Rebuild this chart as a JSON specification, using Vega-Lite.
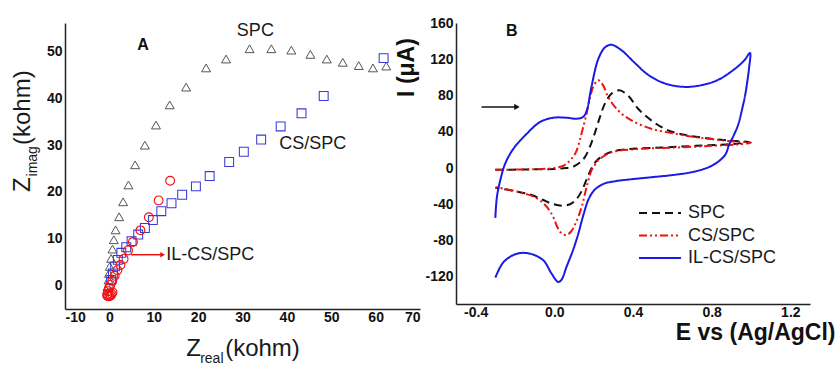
{
  "$schema": "https://vega.github.io/schema/vega-lite/v6.json",
  "padding": {"left": 10, "top": 16, "right": 0, "bottom": 0},
  "background": "white",
  "config": {
    "font": "Liberation Sans",
    "view": {"stroke": null},
    "concat": {"spacing": 36},
    "locale": {"number": {"decimal": ".", "thousands": ",", "grouping": [3], "currency": ["$", ""], "minus": "-"}},
    "axis": {
      "grid": false, "ticks": false, "domainColor": "#222222", "domainWidth": 1.5,
      "labelFontSize": 14, "labelFontWeight": "bold", "labelColor": "#111111", "labelPadding": 3,
      "labelFont": "Liberation Sans"
    },
    "axisBottom": {"labelPadding": 1}
  },
  "bounds": "flush",
  "resolve": {
    "scale": {"color": "independent", "shape": "independent", "size": "independent", "strokeWidth": "independent", "strokeDash": "independent"},
    "legend": {"color": "independent", "strokeDash": "independent"}
  },
  "hconcat": [
    {
      "width": 355,
      "height": 286,
      "encoding": {
        "x": {"field": "zr", "type": "quantitative", "scale": {"domain": [-10, 70], "nice": false, "zero": false},
              "axis": {"title": null, "values": [-10, 0, 10, 20, 30, 40, 50, 60, 70]}},
        "y": {"field": "zi", "type": "quantitative", "scale": {"domain": [-5, 56.1], "nice": false, "zero": false},
              "axis": {"title": null, "values": [0, 10, 20, 30, 40, 50]}}
      },
      "layer": [
        {
          "data": {"values": [
            {"series": "SPC", "zr": -0.4, "zi": -0.2},
            {"series": "SPC", "zr": -0.2, "zi": 1.2},
            {"series": "SPC", "zr": -0.1, "zi": 2.6},
            {"series": "SPC", "zr": 0.1, "zi": 4.1},
            {"series": "SPC", "zr": 0.4, "zi": 5.8},
            {"series": "SPC", "zr": 0.7, "zi": 7.8},
            {"series": "SPC", "zr": 1.0, "zi": 9.8},
            {"series": "SPC", "zr": 1.4, "zi": 11.9},
            {"series": "SPC", "zr": 2.2, "zi": 14.7},
            {"series": "SPC", "zr": 3.1, "zi": 17.9},
            {"series": "SPC", "zr": 4.3, "zi": 21.5},
            {"series": "SPC", "zr": 5.8, "zi": 25.8},
            {"series": "SPC", "zr": 8.0, "zi": 30.0},
            {"series": "SPC", "zr": 10.5, "zi": 34.3},
            {"series": "SPC", "zr": 13.6, "zi": 38.6},
            {"series": "SPC", "zr": 17.3, "zi": 42.4},
            {"series": "SPC", "zr": 21.8, "zi": 46.5},
            {"series": "SPC", "zr": 26.3, "zi": 48.4},
            {"series": "SPC", "zr": 31.6, "zi": 50.6},
            {"series": "SPC", "zr": 36.5, "zi": 50.6},
            {"series": "SPC", "zr": 41.0, "zi": 50.3},
            {"series": "SPC", "zr": 45.3, "zi": 49.4},
            {"series": "SPC", "zr": 49.0, "zi": 48.4},
            {"series": "SPC", "zr": 52.6, "zi": 47.7},
            {"series": "SPC", "zr": 56.2, "zi": 47.0},
            {"series": "SPC", "zr": 59.4, "zi": 46.5},
            {"series": "SPC", "zr": 62.4, "zi": 46.9},
            {"series": "CS/SPC", "zr": 0.4, "zi": 1.2},
            {"series": "CS/SPC", "zr": 0.8, "zi": 2.6},
            {"series": "CS/SPC", "zr": 1.3, "zi": 4.1},
            {"series": "CS/SPC", "zr": 1.9, "zi": 5.5},
            {"series": "CS/SPC", "zr": 2.7, "zi": 7.0},
            {"series": "CS/SPC", "zr": 3.8, "zi": 8.2},
            {"series": "CS/SPC", "zr": 5.0, "zi": 9.5},
            {"series": "CS/SPC", "zr": 6.5, "zi": 10.9},
            {"series": "CS/SPC", "zr": 8.0, "zi": 12.3},
            {"series": "CS/SPC", "zr": 9.8, "zi": 14.0},
            {"series": "CS/SPC", "zr": 11.7, "zi": 15.9},
            {"series": "CS/SPC", "zr": 14.0, "zi": 17.6},
            {"series": "CS/SPC", "zr": 16.4, "zi": 19.4},
            {"series": "CS/SPC", "zr": 19.5, "zi": 21.2},
            {"series": "CS/SPC", "zr": 22.6, "zi": 23.4},
            {"series": "CS/SPC", "zr": 27.0, "zi": 26.4},
            {"series": "CS/SPC", "zr": 30.3, "zi": 28.6},
            {"series": "CS/SPC", "zr": 34.2, "zi": 31.2},
            {"series": "CS/SPC", "zr": 38.6, "zi": 34.0},
            {"series": "CS/SPC", "zr": 43.3, "zi": 36.8},
            {"series": "CS/SPC", "zr": 48.3, "zi": 40.5},
            {"series": "CS/SPC", "zr": 61.8, "zi": 48.6},
            {"series": "IL-CS/SPC", "zr": -0.5, "zi": -2.1},
            {"series": "IL-CS/SPC", "zr": -0.3, "zi": -2.3},
            {"series": "IL-CS/SPC", "zr": 0.0, "zi": -2.3},
            {"series": "IL-CS/SPC", "zr": 0.3, "zi": -2.1},
            {"series": "IL-CS/SPC", "zr": 0.5, "zi": -1.8},
            {"series": "IL-CS/SPC", "zr": 0.7, "zi": -1.4},
            {"series": "IL-CS/SPC", "zr": -0.45, "zi": -1.8},
            {"series": "IL-CS/SPC", "zr": -0.3, "zi": -1.2},
            {"series": "IL-CS/SPC", "zr": -0.08, "zi": -0.5},
            {"series": "IL-CS/SPC", "zr": 0.2, "zi": 0.15},
            {"series": "IL-CS/SPC", "zr": 0.66, "zi": 1.0},
            {"series": "IL-CS/SPC", "zr": 1.2, "zi": 2.1},
            {"series": "IL-CS/SPC", "zr": 1.8, "zi": 3.3},
            {"series": "IL-CS/SPC", "zr": 2.5, "zi": 4.4},
            {"series": "IL-CS/SPC", "zr": 3.2, "zi": 5.7},
            {"series": "IL-CS/SPC", "zr": 4.2, "zi": 7.5},
            {"series": "IL-CS/SPC", "zr": 5.3, "zi": 9.3},
            {"series": "IL-CS/SPC", "zr": 7.0, "zi": 11.8},
            {"series": "IL-CS/SPC", "zr": 8.9, "zi": 14.6},
            {"series": "IL-CS/SPC", "zr": 11.1, "zi": 18.2},
            {"series": "IL-CS/SPC", "zr": 13.7, "zi": 22.4}
          ]},
          "mark": {"type": "point", "filled": false, "opacity": 1},
          "encoding": {
            "shape": {"field": "series", "type": "nominal", "legend": null,
                      "scale": {"domain": ["SPC", "CS/SPC", "IL-CS/SPC"], "range": ["triangle-up", "square", "circle"]}},
            "color": {"field": "series", "type": "nominal", "legend": null,
                      "scale": {"domain": ["SPC", "CS/SPC", "IL-CS/SPC"], "range": ["#555555", "#3a3ad6", "#ee1111"]}},
            "size": {"field": "series", "type": "nominal", "legend": null,
                     "scale": {"domain": ["SPC", "CS/SPC", "IL-CS/SPC"], "range": [80, 78, 85]}},
            "strokeWidth": {"field": "series", "type": "nominal", "legend": null,
                     "scale": {"domain": ["SPC", "CS/SPC", "IL-CS/SPC"], "range": [1, 1.1, 2]}}
          }
        },
        {
          "data": {"values": [{"zr": 4.9, "zi": 6.6, "zr2": 12.0}]},
          "mark": {"type": "rule", "color": "#ee1111", "strokeWidth": 1.5},
          "encoding": {"x2": {"field": "zr2"}}
        },
        {
          "data": {"values": [{"zr": 12.0, "zi": 6.6}]},
          "mark": {"type": "point", "shape": "triangle-right", "filled": true, "color": "#ee1111", "size": 30, "opacity": 1}
        },
        {
          "data": {"values": [
            {"label": "SPC", "zr": 32.9, "zi": 54.3, "align": "center"},
            {"label": "CS/SPC", "zr": 38.3, "zi": 30.3, "align": "left"},
            {"label": "IL-CS/SPC", "zr": 12.8, "zi": 6.6, "align": "left"}
          ]},
          "mark": {"type": "text", "fontSize": 18, "color": "#1a1a1a", "baseline": "middle", "align": {"expr": "datum.align"}},
          "encoding": {"text": {"field": "label"}}
        },
        {
          "data": {"values": [{"label": "A", "zr": 7.6, "zi": 51.5}]},
          "mark": {"type": "text", "fontSize": 16, "fontWeight": "bold", "color": "#111111", "baseline": "middle"},
          "encoding": {"text": {"field": "label"}}
        },
        {
          "data": {"values": [{"t": "Z", "zr": 17.3, "zi": -5}]},
          "mark": {"type": "text", "fontSize": 24, "align": "left", "baseline": "alphabetic", "dy": 47, "color": "#1a1a1a"},
          "encoding": {"text": {"field": "t"}}
        },
        {
          "data": {"values": [{"t": "real", "zr": 17.3, "zi": -5}]},
          "mark": {"type": "text", "fontSize": 14, "align": "left", "baseline": "alphabetic", "dx": 14, "dy": 54, "color": "#1a1a1a"},
          "encoding": {"text": {"field": "t"}}
        },
        {
          "data": {"values": [{"t": "(kohm)", "zr": 17.3, "zi": -5}]},
          "mark": {"type": "text", "fontSize": 24, "align": "left", "baseline": "alphabetic", "dx": 39, "dy": 47, "color": "#1a1a1a"},
          "encoding": {"text": {"field": "t"}}
        },
        {
          "data": {"values": [{"t": "Z", "zr": -10, "zi": 20}]},
          "mark": {"type": "text", "fontSize": 24, "angle": 270, "align": "left", "baseline": "alphabetic", "dy": -35, "color": "#1a1a1a"},
          "encoding": {"text": {"field": "t"}}
        },
        {
          "data": {"values": [{"t": "imag", "zr": -10, "zi": 20}]},
          "mark": {"type": "text", "fontSize": 14, "angle": 270, "align": "left", "baseline": "alphabetic", "dx": 15.5, "dy": -28, "color": "#1a1a1a"},
          "encoding": {"text": {"field": "t"}}
        },
        {
          "data": {"values": [{"t": "(kohm)", "zr": -10, "zi": 20}]},
          "mark": {"type": "text", "fontSize": 24, "angle": 270, "align": "left", "baseline": "alphabetic", "dx": 47, "dy": -35, "color": "#1a1a1a"},
          "encoding": {"text": {"field": "t"}}
        }
      ]
    },
    {
      "width": 354,
      "height": 281,
      "encoding": {
        "x": {"field": "E", "type": "quantitative", "scale": {"domain": [-0.5, 1.3], "nice": false, "zero": false},
              "axis": {"values": [-0.4, 0, 0.4, 0.8, 1.2], "format": ".1f", "title": "E vs (Ag/AgCl)",
                       "titleFontSize": 23, "titleFontWeight": "bold", "titleColor": "#111111",
                       "titleAnchor": "start", "titleAlign": "right", "titleBaseline": "alphabetic", "titleX": 379, "titleY": 35}},
        "y": {"field": "I", "type": "quantitative", "scale": {"domain": [-150, 160], "nice": false, "zero": false},
              "axis": {"values": [-120, -80, -40, 0, 40, 80, 120, 160], "format": "d", "title": "I (μA)",
                       "titleFontSize": 23, "titleFontWeight": "bold", "titleColor": "#111111",
                       "titleAngle": 270, "titleAlign": "center", "titleBaseline": "alphabetic", "titleX": -43, "titleY": 44}}
      },
      "layer": [
        {
          "data": {"values": [
            {"series": "SPC", "k": 1, "E": -0.30, "I": -2.0},
            {"series": "SPC", "k": 2, "E": -0.15, "I": -1.6},
            {"series": "SPC", "k": 3, "E": 0.0, "I": -1.0},
            {"series": "SPC", "k": 4, "E": 0.06, "I": 0.0},
            {"series": "SPC", "k": 5, "E": 0.10, "I": 2.0},
            {"series": "SPC", "k": 6, "E": 0.13, "I": 6.0},
            {"series": "SPC", "k": 7, "E": 0.155, "I": 12.0},
            {"series": "SPC", "k": 8, "E": 0.18, "I": 23.0},
            {"series": "SPC", "k": 9, "E": 0.205, "I": 38.0},
            {"series": "SPC", "k": 10, "E": 0.23, "I": 55.0},
            {"series": "SPC", "k": 11, "E": 0.257, "I": 71.0},
            {"series": "SPC", "k": 12, "E": 0.29, "I": 82.0},
            {"series": "SPC", "k": 13, "E": 0.33, "I": 85.7},
            {"series": "SPC", "k": 14, "E": 0.375, "I": 80.0},
            {"series": "SPC", "k": 15, "E": 0.426, "I": 65.4},
            {"series": "SPC", "k": 16, "E": 0.493, "I": 52.6},
            {"series": "SPC", "k": 17, "E": 0.578, "I": 41.5},
            {"series": "SPC", "k": 18, "E": 0.679, "I": 36.0},
            {"series": "SPC", "k": 19, "E": 0.797, "I": 32.4},
            {"series": "SPC", "k": 20, "E": 0.90, "I": 30.0},
            {"series": "SPC", "k": 21, "E": 0.99, "I": 28.5},
            {"series": "SPC", "k": 22, "E": 0.95, "I": 27.2},
            {"series": "SPC", "k": 23, "E": 0.85, "I": 25.8},
            {"series": "SPC", "k": 24, "E": 0.72, "I": 24.5},
            {"series": "SPC", "k": 25, "E": 0.60, "I": 23.2},
            {"series": "SPC", "k": 26, "E": 0.48, "I": 22.0},
            {"series": "SPC", "k": 27, "E": 0.38, "I": 21.0},
            {"series": "SPC", "k": 28, "E": 0.30, "I": 18.5},
            {"series": "SPC", "k": 29, "E": 0.25, "I": 14.0},
            {"series": "SPC", "k": 30, "E": 0.215, "I": 8.0},
            {"series": "SPC", "k": 31, "E": 0.19, "I": 0.0},
            {"series": "SPC", "k": 32, "E": 0.165, "I": -12.0},
            {"series": "SPC", "k": 33, "E": 0.14, "I": -25.0},
            {"series": "SPC", "k": 34, "E": 0.11, "I": -35.0},
            {"series": "SPC", "k": 35, "E": 0.08, "I": -40.0},
            {"series": "SPC", "k": 36, "E": 0.04, "I": -41.5},
            {"series": "SPC", "k": 37, "E": -0.01, "I": -39.5},
            {"series": "SPC", "k": 38, "E": -0.06, "I": -35.0},
            {"series": "SPC", "k": 39, "E": -0.12, "I": -29.5},
            {"series": "SPC", "k": 40, "E": -0.20, "I": -25.5},
            {"series": "SPC", "k": 41, "E": -0.30, "I": -21.7},
            {"series": "CS/SPC", "k": 1, "E": -0.30, "I": -2.0},
            {"series": "CS/SPC", "k": 2, "E": -0.15, "I": -1.5},
            {"series": "CS/SPC", "k": 3, "E": 0.0, "I": 0.0},
            {"series": "CS/SPC", "k": 4, "E": 0.05, "I": 3.0},
            {"series": "CS/SPC", "k": 5, "E": 0.08, "I": 8.5},
            {"series": "CS/SPC", "k": 6, "E": 0.11, "I": 17.6},
            {"series": "CS/SPC", "k": 7, "E": 0.138, "I": 37.9},
            {"series": "CS/SPC", "k": 8, "E": 0.164, "I": 60.0},
            {"series": "CS/SPC", "k": 9, "E": 0.18, "I": 76.0},
            {"series": "CS/SPC", "k": 10, "E": 0.197, "I": 89.3},
            {"series": "CS/SPC", "k": 11, "E": 0.223, "I": 96.8},
            {"series": "CS/SPC", "k": 12, "E": 0.248, "I": 91.2},
            {"series": "CS/SPC", "k": 13, "E": 0.274, "I": 78.3},
            {"series": "CS/SPC", "k": 14, "E": 0.324, "I": 63.6},
            {"series": "CS/SPC", "k": 15, "E": 0.392, "I": 52.6},
            {"series": "CS/SPC", "k": 16, "E": 0.493, "I": 43.4},
            {"series": "CS/SPC", "k": 17, "E": 0.612, "I": 37.9},
            {"series": "CS/SPC", "k": 18, "E": 0.713, "I": 34.2},
            {"series": "CS/SPC", "k": 19, "E": 0.797, "I": 32.0},
            {"series": "CS/SPC", "k": 20, "E": 0.90, "I": 29.5},
            {"series": "CS/SPC", "k": 21, "E": 1.0, "I": 28.0},
            {"series": "CS/SPC", "k": 22, "E": 0.93, "I": 26.0},
            {"series": "CS/SPC", "k": 23, "E": 0.80, "I": 24.5},
            {"series": "CS/SPC", "k": 24, "E": 0.66, "I": 23.0},
            {"series": "CS/SPC", "k": 25, "E": 0.52, "I": 22.0},
            {"series": "CS/SPC", "k": 26, "E": 0.40, "I": 20.5},
            {"series": "CS/SPC", "k": 27, "E": 0.30, "I": 18.0},
            {"series": "CS/SPC", "k": 28, "E": 0.25, "I": 13.0},
            {"series": "CS/SPC", "k": 29, "E": 0.22, "I": 8.0},
            {"series": "CS/SPC", "k": 30, "E": 0.205, "I": 3.0},
            {"series": "CS/SPC", "k": 31, "E": 0.189, "I": -2.6},
            {"series": "CS/SPC", "k": 32, "E": 0.164, "I": -21.0},
            {"series": "CS/SPC", "k": 33, "E": 0.139, "I": -43.0},
            {"series": "CS/SPC", "k": 34, "E": 0.11, "I": -60.0},
            {"series": "CS/SPC", "k": 35, "E": 0.085, "I": -70.0},
            {"series": "CS/SPC", "k": 36, "E": 0.062, "I": -74.0},
            {"series": "CS/SPC", "k": 37, "E": 0.037, "I": -72.0},
            {"series": "CS/SPC", "k": 38, "E": 0.015, "I": -65.0},
            {"series": "CS/SPC", "k": 39, "E": -0.01, "I": -52.0},
            {"series": "CS/SPC", "k": 40, "E": -0.05, "I": -40.0},
            {"series": "CS/SPC", "k": 41, "E": -0.10, "I": -32.0},
            {"series": "CS/SPC", "k": 42, "E": -0.15, "I": -28.3},
            {"series": "CS/SPC", "k": 43, "E": -0.216, "I": -24.6},
            {"series": "CS/SPC", "k": 44, "E": -0.30, "I": -21.0},
            {"series": "IL-CS/SPC", "k": 1, "E": -0.300, "I": -55.0},
            {"series": "IL-CS/SPC", "k": 2, "E": -0.292, "I": -32.0},
            {"series": "IL-CS/SPC", "k": 3, "E": -0.275, "I": -13.6},
            {"series": "IL-CS/SPC", "k": 4, "E": -0.25, "I": 4.8},
            {"series": "IL-CS/SPC", "k": 5, "E": -0.208, "I": 21.3},
            {"series": "IL-CS/SPC", "k": 6, "E": -0.14, "I": 37.9},
            {"series": "IL-CS/SPC", "k": 7, "E": -0.073, "I": 50.7},
            {"series": "IL-CS/SPC", "k": 8, "E": -0.005, "I": 55.5},
            {"series": "IL-CS/SPC", "k": 9, "E": 0.062, "I": 55.5},
            {"series": "IL-CS/SPC", "k": 10, "E": 0.113, "I": 54.4},
            {"series": "IL-CS/SPC", "k": 11, "E": 0.147, "I": 56.5},
            {"series": "IL-CS/SPC", "k": 12, "E": 0.165, "I": 63.6},
            {"series": "IL-CS/SPC", "k": 13, "E": 0.189, "I": 90.0},
            {"series": "IL-CS/SPC", "k": 14, "E": 0.223, "I": 120.0},
            {"series": "IL-CS/SPC", "k": 15, "E": 0.257, "I": 133.0},
            {"series": "IL-CS/SPC", "k": 16, "E": 0.29, "I": 136.0},
            {"series": "IL-CS/SPC", "k": 17, "E": 0.341, "I": 130.0},
            {"series": "IL-CS/SPC", "k": 18, "E": 0.409, "I": 116.0},
            {"series": "IL-CS/SPC", "k": 19, "E": 0.476, "I": 103.0},
            {"series": "IL-CS/SPC", "k": 20, "E": 0.56, "I": 93.5},
            {"series": "IL-CS/SPC", "k": 21, "E": 0.662, "I": 89.5},
            {"series": "IL-CS/SPC", "k": 22, "E": 0.75, "I": 91.5},
            {"series": "IL-CS/SPC", "k": 23, "E": 0.83, "I": 97.0},
            {"series": "IL-CS/SPC", "k": 24, "E": 0.90, "I": 106.5},
            {"series": "IL-CS/SPC", "k": 25, "E": 0.965, "I": 118.5},
            {"series": "IL-CS/SPC", "k": 26, "E": 0.995, "I": 127.0},
            {"series": "IL-CS/SPC", "k": 27, "E": 0.990, "I": 110.0},
            {"series": "IL-CS/SPC", "k": 28, "E": 0.982, "I": 96.7},
            {"series": "IL-CS/SPC", "k": 29, "E": 0.970, "I": 80.0},
            {"series": "IL-CS/SPC", "k": 30, "E": 0.957, "I": 67.0},
            {"series": "IL-CS/SPC", "k": 31, "E": 0.935, "I": 48.0},
            {"series": "IL-CS/SPC", "k": 32, "E": 0.912, "I": 36.0},
            {"series": "IL-CS/SPC", "k": 33, "E": 0.889, "I": 26.0},
            {"series": "IL-CS/SPC", "k": 34, "E": 0.87, "I": 15.0},
            {"series": "IL-CS/SPC", "k": 35, "E": 0.83, "I": 6.5},
            {"series": "IL-CS/SPC", "k": 36, "E": 0.78, "I": 0.5},
            {"series": "IL-CS/SPC", "k": 37, "E": 0.70, "I": -4.5},
            {"series": "IL-CS/SPC", "k": 38, "E": 0.60, "I": -7.8},
            {"series": "IL-CS/SPC", "k": 39, "E": 0.50, "I": -10.0},
            {"series": "IL-CS/SPC", "k": 40, "E": 0.40, "I": -12.2},
            {"series": "IL-CS/SPC", "k": 41, "E": 0.31, "I": -14.5},
            {"series": "IL-CS/SPC", "k": 42, "E": 0.25, "I": -17.5},
            {"series": "IL-CS/SPC", "k": 43, "E": 0.205, "I": -24.0},
            {"series": "IL-CS/SPC", "k": 44, "E": 0.175, "I": -34.0},
            {"series": "IL-CS/SPC", "k": 45, "E": 0.150, "I": -50.0},
            {"series": "IL-CS/SPC", "k": 46, "E": 0.122, "I": -72.4},
            {"series": "IL-CS/SPC", "k": 47, "E": 0.096, "I": -90.0},
            {"series": "IL-CS/SPC", "k": 48, "E": 0.062, "I": -109.0},
            {"series": "IL-CS/SPC", "k": 49, "E": 0.037, "I": -123.0},
            {"series": "IL-CS/SPC", "k": 50, "E": 0.02, "I": -125.7},
            {"series": "IL-CS/SPC", "k": 51, "E": -0.014, "I": -116.5},
            {"series": "IL-CS/SPC", "k": 52, "E": -0.056, "I": -101.8},
            {"series": "IL-CS/SPC", "k": 53, "E": -0.123, "I": -94.5},
            {"series": "IL-CS/SPC", "k": 54, "E": -0.19, "I": -94.5},
            {"series": "IL-CS/SPC", "k": 55, "E": -0.258, "I": -103.7},
            {"series": "IL-CS/SPC", "k": 56, "E": -0.300, "I": -121.0}
          ]},
          "mark": {"type": "line", "interpolate": "catmull-rom", "strokeWidth": 2},
          "encoding": {
            "order": {"field": "k", "type": "quantitative"},
            "color": {"field": "series", "type": "nominal",
                      "scale": {"domain": ["SPC", "CS/SPC", "IL-CS/SPC"], "range": ["#111111", "#ee1111", "#1a1ae6"]},
                      "legend": {"orient": "none", "legendX": 195, "legendY": 181, "title": null, "symbolType": "M-4,0H4",
                                 "symbolSize": 110, "symbolStrokeWidth": 2, "labelFontSize": 18, "labelColor": "#1a1a1a",
                                 "labelOffset": 19, "rowPadding": 4.5, "padding": 0}},
            "strokeDash": {"field": "series", "type": "nominal",
                      "scale": {"domain": ["SPC", "CS/SPC", "IL-CS/SPC"], "range": [[8, 5], [8, 3, 2, 3, 2, 3], [1, 0]]}}
          }
        },
        {
          "data": {"values": [{"E": -0.37, "I": 67.4, "E2": -0.19}]},
          "mark": {"type": "rule", "color": "#111111", "strokeWidth": 1.5},
          "encoding": {"x2": {"field": "E2"}}
        },
        {
          "data": {"values": [{"E": -0.19, "I": 67.4}]},
          "mark": {"type": "point", "shape": "triangle-right", "filled": true, "color": "#111111", "size": 40, "opacity": 1}
        },
        {
          "data": {"values": [{"label": "B", "E": -0.217, "I": 151}]},
          "mark": {"type": "text", "fontSize": 16, "fontWeight": "bold", "color": "#111111", "baseline": "middle"},
          "encoding": {"text": {"field": "label"}}
        }
      ]
    }
  ]
}
